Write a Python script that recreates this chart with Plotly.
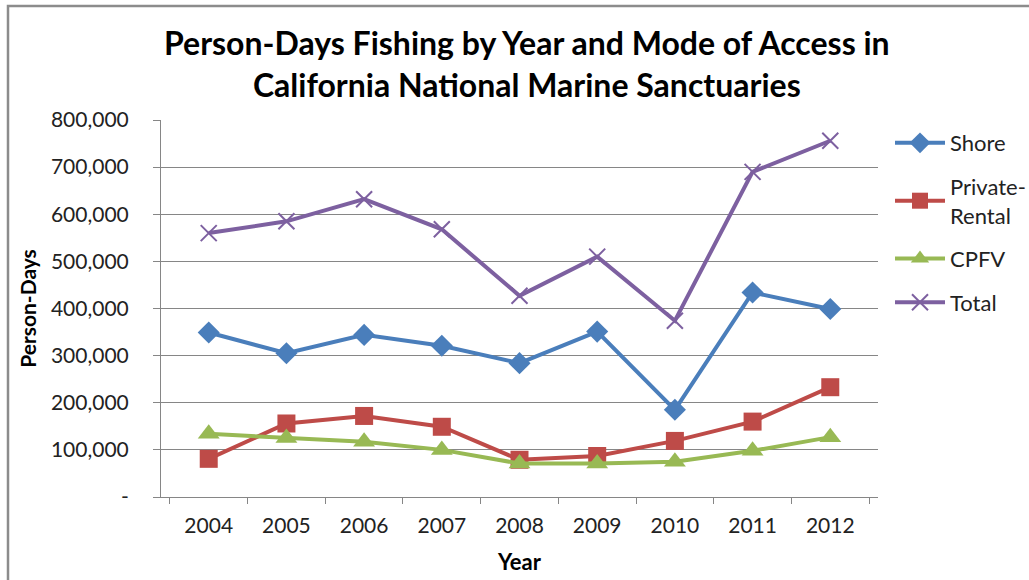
import plotly.graph_objects as go

years = ["2004", "2005", "2006", "2007", "2008", "2009", "2010", "2011", "2012"]
shore = [349000, 305000, 344000, 321000, 284000, 351000, 185000, 434000, 399000]
private_rental = [81000, 156000, 172000, 149000, 79000, 87000, 119000, 160000, 233000]
cpfv = [134000, 125000, 117000, 100000, 71000, 71000, 75000, 98000, 127000]
total = [560000, 585000, 632000, 568000, 427000, 510000, 374000, 690000, 756000]

y_tickvals = [0, 100000, 200000, 300000, 400000, 500000, 600000, 700000, 800000]
y_ticktext = ["-", "100,000", "200,000", "300,000", "400,000", "500,000",
              "600,000", "700,000", "800,000"]

FONT = "Lato, 'Open Sans', sans-serif"

fig = go.Figure()
series = [
    ("Shore", shore, "#4A7EBB", dict(symbol="diamond", size=17)),
    ("Private-<br>Rental", private_rental, "#BE4B48", dict(symbol="square", size=18)),
    ("CPFV", cpfv, "#98B954", dict(symbol="triangle-up", size=19)),
    ("Total", total, "#7D60A0", dict(symbol="x-thin-open", size=16)),
]
for i, (name, vals, color, mk) in enumerate(series):
    marker = dict(color=color, **mk)
    if mk["symbol"] == "x-thin-open":
        marker["line"] = dict(color=color, width=2)
    fig.add_trace(go.Scatter(
        x=years, y=vals, name=name, mode="lines+markers",
        line=dict(color=color, width=4),
        marker=marker, legendgroup=str(i),
    ))

W, H = 1029, 580
ml, mr, mt, mb = 161, 151, 120, 83
pw, ph = W - ml - mr, H - mt - mb

def px(x):
    return (x - ml) / pw

def py(y):
    return (H - mb - y) / ph

fig.update_layout(
    width=W, height=H,
    margin=dict(l=ml, r=mr, t=mt, b=mb, autoexpand=False),
    paper_bgcolor="white", plot_bgcolor="white",
    font=dict(family=FONT, color="#000000"),
    title=dict(
        text="<b>Person-Days Fishing by Year and Mode of Access in<br>California National Marine Sanctuaries</b>",
        x=0.512, xanchor="center", y=0.905, yanchor="middle",
        font=dict(size=32, family=FONT, color="#000000"),
    ),
    xaxis=dict(
        type="category", tickson="boundaries",
        ticks="outside", ticklen=6, tickcolor="#868686",
        showline=True, linecolor="#868686", linewidth=1,
        showgrid=False, tickfont=dict(size=21, color="#222222"),
        ticklabelstandoff=10,
        title=dict(text="<b>Year</b>", font=dict(size=22), standoff=18),
    ),
    yaxis=dict(
        range=[0, 800000], tickvals=y_tickvals, ticktext=y_ticktext,
        ticks="outside", ticklen=7, tickcolor="#868686",
        showline=True, linecolor="#868686", linewidth=1,
        showgrid=True, gridcolor="#868686", gridwidth=1,
        zeroline=False, tickfont=dict(size=21, color="#222222"),
        ticklabelstandoff=20,
        title=dict(text="<b>Person-Days</b>", font=dict(size=21), standoff=8),
    ),
    legend=dict(
        x=px(890), y=py(122), xanchor="left", yanchor="top",
        font=dict(size=22, color="#222222"),
        tracegroupgap=12, bgcolor="rgba(0,0,0,0)",
        itemwidth=50,
    ),
    showlegend=True,
)

fig.add_shape(
    type="path", xref="paper", yref="paper",
    path=f"M {px(8)} {py(590)} L {px(8)} {py(6)} L {px(1040)} {py(6)}",
    line=dict(color="#8C8C8C", width=2.5),
)

fig.write_html("out.html", config={"displayModeBar": False},
               post_script="document.body.style.margin='0';")
